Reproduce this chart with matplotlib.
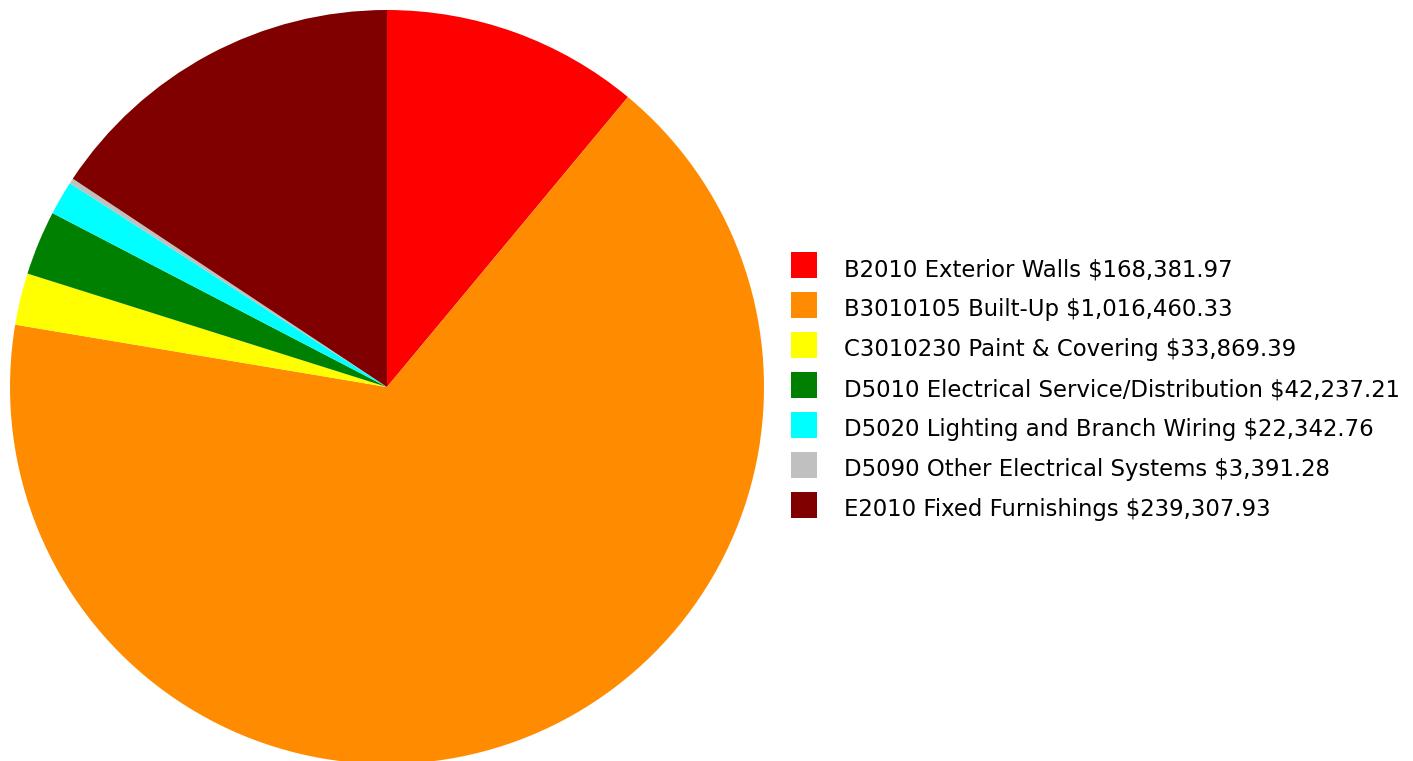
import matplotlib
matplotlib.use("Agg")
import matplotlib.pyplot as plt
from matplotlib.patches import Rectangle

plt.rcParams['font.family'] = ['DejaVu Sans']

labels = ["B2010 Exterior Walls", "B3010105 Built-Up", "C3010230 Paint & Covering",
          "D5010 Electrical Service/Distribution", "D5020 Lighting and Branch Wiring",
          "D5090 Other Electrical Systems", "E2010 Fixed Furnishings"]
values = [168381.97, 1016460.33, 33869.39, 42237.21, 22342.76, 3391.28, 239307.93]
colors = ["#FF0000", "#FF8C00", "#FFFF00", "#008000", "#00FFFF", "#C0C0C0", "#800000"]

W, H = 1413, 761
fig = plt.figure(figsize=(W / 100, H / 100), dpi=100)

# pie centred at (387, 387) px, radius 377 px
cx, cy, r = 387, 387, 377
ax = fig.add_axes([(cx - r) / W, (H - cy - r) / H, 2 * r / W, 2 * r / H])
ax.pie(values, colors=colors, startangle=90, counterclock=False, radius=1,
       wedgeprops=dict(linewidth=0))
ax.set_xlim(-1, 1)
ax.set_ylim(-1, 1)
ax.set_aspect('equal')
ax.axis('off')

# legend on the right
for i, (lab, val, col) in enumerate(zip(labels, values, colors)):
    yc = 265 + 40 * i
    fig.patches.append(Rectangle((791 / W, (H - yc - 13) / H), 26 / W, 26 / H,
                                 transform=fig.transFigure, facecolor=col,
                                 edgecolor='none'))
    fig.text(844 / W, (H - yc - 11) / H, f"{lab} ${val:,.2f}", fontsize=16.4,
             va='baseline', ha='left', color='#000000')

fig.savefig("out.png", dpi=100)
